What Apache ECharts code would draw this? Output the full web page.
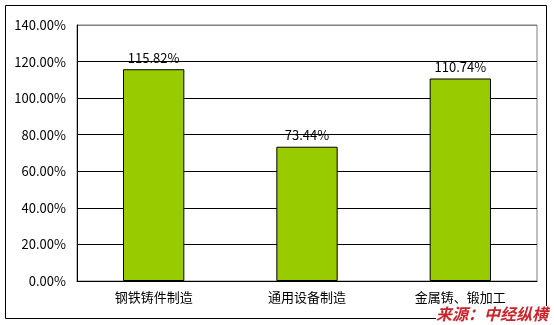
<!DOCTYPE html>
<html><head><meta charset="utf-8">
<script src="https://cdn.jsdelivr.net/npm/echarts@6/dist/echarts.min.js"></script>
<style>html,body{margin:0;padding:0;background:#fff}#c{width:554px;height:325px}</style>
</head><body><div id="c"></div>
<script>
const categories = ['钢铁铸件制造', '通用设备制造', '金属铸、锻加工'];
const values = [115.82, 73.44, 110.74];
const yMin = 0, yMax = 140, yStep = 20;
const sourceText = '来源：中经纵横';

const chart = echarts.init(document.getElementById('c'), null, {renderer: 'canvas'});
const numFont = '"Noto Sans CJK SC", "Noto Sans", sans-serif';
chart.setOption({
  animation: false,
  backgroundColor: '#fff',
  grid: {left: 77, right: 17, top: 25, bottom: 44, show: true, borderColor: '#808080', borderWidth: 1},
  xAxis: {
    type: 'category', data: categories,
    axisLine: {lineStyle: {color: '#000', width: 1}},
    axisTick: {inside: true, length: 4, lineStyle: {color: '#000'}},
    axisLabel: {color: '#000', fontSize: 13, fontFamily: numFont, margin: 10}
  },
  yAxis: {
    type: 'value', min: yMin, max: yMax, interval: yStep,
    axisLine: {show: true, lineStyle: {color: '#000', width: 1}},
    axisTick: {show: false},
    axisLabel: {color: '#000', fontSize: 13, fontFamily: numFont, margin: 11,
      formatter: v => v.toFixed(2) + '%'},
    splitLine: {lineStyle: {color: ['#000','#000','#000','#000','#000','#000','#000','#808080'], width: 1}}
  },
  series: [{
    type: 'bar', data: values, barWidth: '40%',
    itemStyle: {color: '#99CC00', borderColor: '#000', borderWidth: 1},
    label: {show: true, position: 'top', distance: 5, color: '#000', fontSize: 13, fontFamily: numFont,
      formatter: p => p.value.toFixed(2) + '%'}
  }],
  graphic: [
    {type: 'rect', shape: {x: 5.5, y: 5.5, width: 541, height: 313}, style: {fill: 'none', stroke: '#000', lineWidth: 1}, z: 10},
    {type: 'text', right: 6, top: 306, z: 20,
      style: {text: sourceText, fill: '#C8262C', font: 'italic bold 16px "Noto Sans CJK SC", sans-serif', backgroundColor: '#fff'}}
  ]
});
</script></body></html>
